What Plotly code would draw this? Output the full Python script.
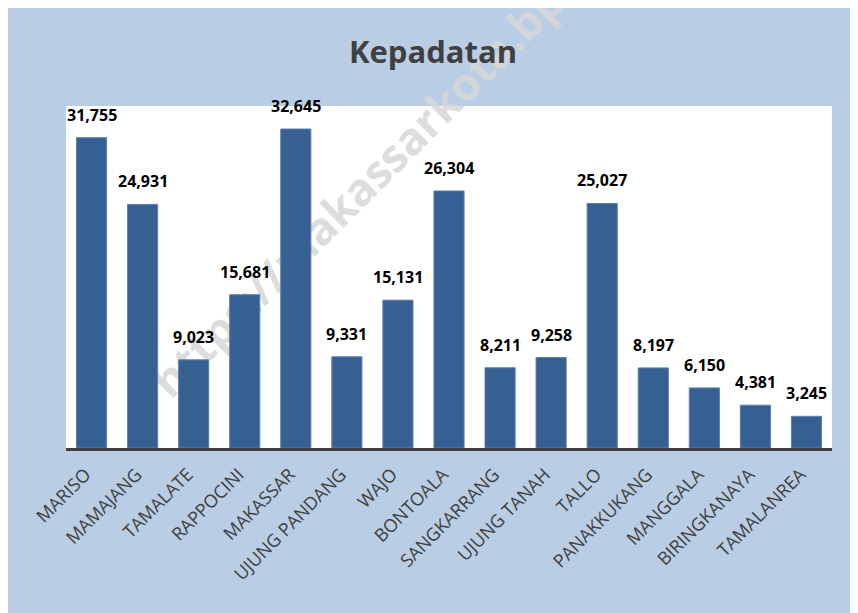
import plotly.graph_objects as go

categories = ["MARISO", "MAMAJANG", "TAMALATE", "RAPPOCINI", "MAKASSAR",
              "UJUNG PANDANG", "WAJO", "BONTOALA", "SANGKARRANG", "UJUNG TANAH",
              "TALLO", "PANAKKUKANG", "MANGGALA", "BIRINGKANAYA", "TAMALANREA"]
kepadatan = [31755, 24931, 9023, 15681, 32645, 9331, 15131, 26304, 8211, 9258,
             25027, 8197, 6150, 4381, 3245]
title_text = "Kepadatan"
watermark = "https://makassarkota.bps.go.id"

BG = "#B9CDE5"
BAR = "#376092"
DARK = "#404040"

fig = go.Figure()
fig.add_trace(go.Bar(
    x=categories, y=kepadatan,
    marker=dict(color=BAR, line=dict(color="#5B7FAE", width=1)),
    width=0.59,
    cliponaxis=False,
    hoverinfo="x+y",
))

# page body has an 8px margin; the figure fills the rest of the 858x613 window
W, H = 850, 605
L, R, T, B = 58, 26, 98, 165
pw = W - L - R
ph = H - T - B

def px_x(p):
    return (p - L) / pw

def px_y(p):
    return (H - B - p) / ph

annotations = [
    dict(x=c, y=v, xref="x", yref="y", text=f"{v:,}", showarrow=False,
         xanchor="center", yanchor="bottom", yshift=10,
         font=dict(family="Open Sans", size=16, color="black", weight="bold"))
    for c, v in zip(categories, kepadatan)
]

shapes = [
    dict(type="line", xref="paper", yref="paper",
         x0=px_x(153), y0=px_y(428), x1=px_x(693), y1=px_y(-112),
         line=dict(width=0, color="rgba(0,0,0,0)"), layer="below",
         label=dict(text=watermark, textposition="middle", textangle=-45,
                    font=dict(family="Open Sans", size=45,
                              color="rgba(215,215,215,0.85)", weight="bold"))),
]

fig.update_layout(
    width=W, height=H,
    margin=dict(l=L, r=R, t=T, b=B),
    paper_bgcolor=BG,
    plot_bgcolor="white",
    showlegend=False,
    title=dict(text=title_text, x=0.5, xanchor="center", xref="container",
               y=1 - 44 / H, yanchor="middle",
               font=dict(family="Open Sans", size=31, color=DARK, weight="bold")),
    xaxis=dict(
        type="category",
        showline=True, linecolor=DARK, linewidth=3,
        showgrid=False, ticks="", tickangle=-45,
        tickfont=dict(family="Open Sans", size=18, color=DARK),
        ticklabelstandoff=6,
        ticklabelshift=-6,
        range=[-0.5, len(categories) - 0.5],
    ),
    yaxis=dict(range=[0, 35000], visible=False, showgrid=False, zeroline=False),
    shapes=shapes,
    annotations=annotations,
)

fig.write_html("out.html")
